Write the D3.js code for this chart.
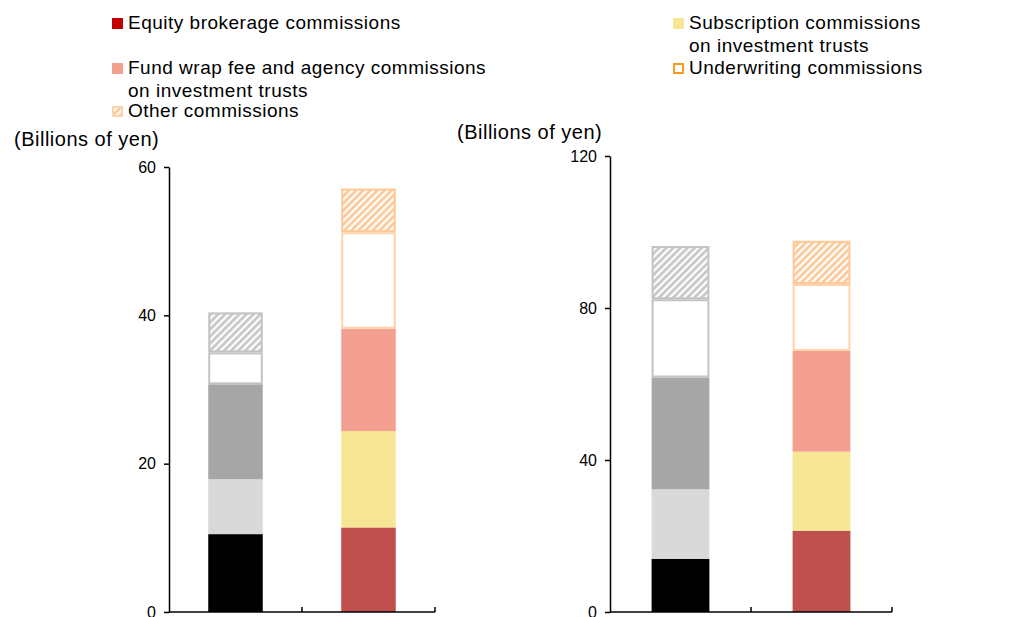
<!DOCTYPE html>
<html>
<head>
<meta charset="utf-8">
<script src="https://cdn.jsdelivr.net/npm/d3@7"></script>
<style>
  body { margin: 0; background: #fff; }
  svg { display: block; font-family: "Liberation Sans", Arial, sans-serif; }
  .legendText { font-size: 19px; letter-spacing: 0.5px; fill: #000; }
  .unitLabel { font-size: 20px; letter-spacing: 0.5px; fill: #000; }
  .tick text { font-size: 16px; fill: #000; }
</style>
</head>
<body>
<div id="plotSect"></div>
<script>
/* global d3 */

// data //

let seriesNames = ["Equity brokerage commissions",
    "Subscription commissions on investment trusts",
    "Fund wrap fee and agency commissions on investment trusts",
    "Underwriting commissions",
    "Other commissions"];

let barNames = ["Earlier", "Later"];

// left panel, billions of yen, bottom to top in series order
let leftEarlier = [10.5, 7.4, 12.8, 4.3, 5.4];
let leftLater = [11.4, 13.0, 13.8, 13.0, 5.9];
let leftTicks = [0, 20, 40, 60];

// right panel
let rightEarlier = [14.0, 18.3, 29.4, 20.6, 14.0];
let rightLater = [21.4, 20.8, 26.5, 17.6, 11.4];
let rightTicks = [0, 40, 80, 120];

// styles //

let grayFill = ["#000000", "#d9d9d9", "#a6a6a6", "#ffffff", "url(#hatchGray)"];
let grayStroke = ["none", "none", "none", "#c3c3c3", "#c3c3c3"];
let warmFill = ["#c0504d", "#f7e794", "#f4a090", "#ffffff", "url(#hatchOrange)"];
let warmStroke = ["none", "none", "none", "#fdd3ae", "#fdc996"];

let SVGwidth = 1019, SVGheight = 617;

let svg = d3.select("#plotSect").append("svg")
    .attr("width", SVGwidth)
    .attr("height", SVGheight);

let defs = svg.append("defs");

function addHatch(id, color) {
    let p = defs.append("pattern")
        .attr("id", id)
        .attr("patternUnits", "userSpaceOnUse")
        .attr("width", 5)
        .attr("height", 5)
        .attr("patternTransform", "rotate(45)");
    p.append("rect").attr("width", 5).attr("height", 5).attr("fill", "#fff");
    p.append("rect").attr("width", 2.8).attr("height", 5).attr("fill", color);
}
addHatch("hatchGray", "#c8c8c8");
addHatch("hatchOrange", "#fdc998");

// one stacked panel //

function drawPanel(opts) {
    let g = svg.append("g");

    let xScale = d3.scaleBand()
        .domain(barNames)
        .range([opts.x0, opts.x1])
        .paddingInner(0.59)
        .paddingOuter(0.295);

    let yScale = d3.scaleLinear()
        .domain([0, opts.ticks[opts.ticks.length - 1]])
        .range([opts.y0, opts.y1]);

    let bars = [
        {name: barNames[0], values: opts.earlier, fill: grayFill, stroke: grayStroke},
        {name: barNames[1], values: opts.later, fill: warmFill, stroke: warmStroke}
    ];

    bars.forEach(function(b) {
        let segs = [];
        let base = 0;
        b.values.forEach(function(v, i) {
            segs.push({lo: base, hi: base + v, i: i});
            base += v;
        });
        g.selectAll(null)
            .data(segs)
            .enter().append("rect")
            .attr("x", function(d) { return xScale(b.name) + (b.stroke[d.i] == "none" ? 0 : 1); })
            .attr("width", function(d) { return xScale.bandwidth() - (b.stroke[d.i] == "none" ? 0 : 2); })
            .attr("y", function(d) { return yScale(d.hi) + (b.stroke[d.i] == "none" ? 0 : 1); })
            .attr("height", function(d) { return yScale(d.lo) - yScale(d.hi) - (b.stroke[d.i] == "none" ? 0 : 2); })
            .attr("fill", function(d) { return b.fill[d.i]; })
            .attr("stroke", function(d) { return b.stroke[d.i]; })
            .attr("stroke-width", 2);
    });

    let yAxis = d3.axisLeft(yScale)
        .tickValues(opts.ticks)
        .tickSize(5)
        .tickPadding(8)
        .tickSizeOuter(0);

    let ya = g.append("g")
        .attr("transform", "translate(" + opts.x0 + ",0)")
        .call(yAxis);
    ya.selectAll("line, path").attr("stroke", "#000").attr("stroke-width", 1.5);

    // x axis: plain line with inside ticks at band edges
    g.append("line")
        .attr("x1", opts.x0).attr("x2", opts.x1)
        .attr("y1", opts.y0).attr("y2", opts.y0)
        .attr("stroke", "#000").attr("stroke-width", 1.5);
    g.selectAll(null)
        .data([1, 2])
        .enter().append("line")
        .attr("x1", function(d) { return opts.x0 + d * xScale.step(); })
        .attr("x2", function(d) { return opts.x0 + d * xScale.step(); })
        .attr("y1", opts.y0)
        .attr("y2", opts.y0 - 5)
        .attr("stroke", "#000").attr("stroke-width", 1.5);

    g.append("text")
        .attr("class", "unitLabel")
        .attr("x", opts.unitX)
        .attr("y", opts.unitY)
        .text("(Billions of yen)");
}

drawPanel({x0: 169, x1: 435, y0: 612, y1: 167, ticks: leftTicks,
    earlier: leftEarlier, later: leftLater, unitX: 14, unitY: 146});
drawPanel({x0: 610, x1: 892, y0: 612, y1: 156, ticks: rightTicks,
    earlier: rightEarlier, later: rightLater, unitX: 457, unitY: 139});

// legend //

let legendItems = [
    {lines: ["Equity brokerage commissions"], x: 112, y: 29, fill: "#c00000", stroke: "none"},
    {lines: ["Fund wrap fee and agency commissions", "on investment trusts"], x: 112, y: 74, fill: "#f4a090", stroke: "none"},
    {lines: ["Other commissions"], x: 112, y: 117, fill: "url(#hatchOrange)", stroke: "#fdd3ae"},
    {lines: ["Subscription commissions", "on investment trusts"], x: 673, y: 29, fill: "#f7e794", stroke: "none"},
    {lines: ["Underwriting commissions"], x: 673, y: 74, fill: "#ffffff", stroke: "#f79a1e"}
];

let legend = svg.selectAll(".legend")
    .data(legendItems)
    .enter().append("g")
    .attr("class", "legend");

legend.append("rect")
    .attr("x", function(d) { return d.x + (d.stroke == "none" ? 0 : 1); })
    .attr("y", function(d) { return d.y - 11 + (d.stroke == "none" ? 0 : 1); })
    .attr("width", function(d) { return d.stroke == "none" ? 11 : 9; })
    .attr("height", function(d) { return d.stroke == "none" ? 11 : 9; })
    .attr("fill", function(d) { return d.fill; })
    .attr("stroke", function(d) { return d.stroke; })
    .attr("stroke-width", 2);

legend.append("text")
    .attr("class", "legendText")
    .attr("x", function(d) { return d.x + 16; })
    .attr("y", function(d) { return d.y; })
    .selectAll("tspan")
    .data(function(d) { return d.lines.map(function(l) { return {t: l, x: d.x + 16}; }); })
    .enter().append("tspan")
    .attr("x", function(d) { return d.x; })
    .attr("dy", function(d, i) { return i == 0 ? 0 : 22.5; })
    .text(function(d) { return d.t; });
</script>
</body>
</html>
